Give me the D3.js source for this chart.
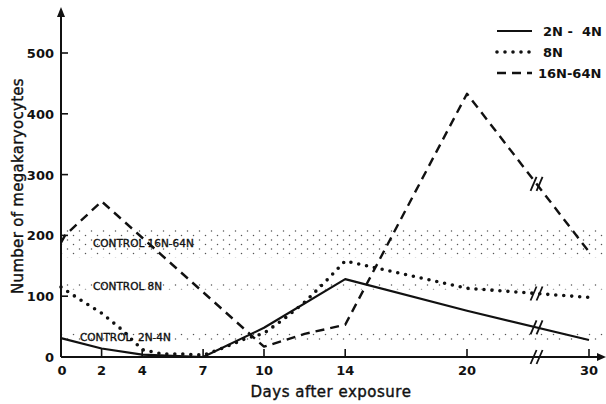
<!DOCTYPE html>
<html><head><meta charset="utf-8">
<script src="https://cdn.jsdelivr.net/npm/d3@7"></script>
<style>
body{margin:0;background:#fff;}
svg{display:block;font-family:"DejaVu Sans",sans-serif;}
</style></head>
<body><svg id="c" width="606" height="404"></svg>
<script>
// ---- data ----
const xTicks = [0, 2, 4, 7, 10, 14, 20, 30];
const yTicks = [0, 100, 200, 300, 400, 500];
const breakDay = 25.7;

const days2N4N = [0, 2, 4, 7, 10, 14, 20, 30];
const vals2N4N = [31, 14, 4, 0, 48, 128, 76, 28];

const days8N = [0, 1, 2, 3, 4, 5, 6, 7, 8, 9, 10, 11, 12, 13, 14, 20, 30];
const vals8N = [115, 93, 72, 45, 12, 5, 5, 3, 15, 29, 39, 63, 90, 123, 158, 113, 98];

const days16N64N = [0, 0.2, 2, 10, 12, 14, 20, 30];
const vals16N64N = [188, 200, 256, 17, 38, 53, 433, 173];

const controlNames = ["CONTROL 16N-64N", "CONTROL 8N", "CONTROL  2N-4N"];
const controlLow = [164, 111, 28];
const controlHigh = [210, 122, 39];

const legendNames = ["2N -  4N", "8N", "16N-64N"];

// ---- setup ----
const svg = d3.select("#c");
const x = d3.scaleLinear().domain([0, 20, 30]).range([61, 467, 589]);
const y = d3.scaleLinear().domain([0, 500]).range([357, 53]);
const ink = "#111";

// stipple pattern
const defs = svg.append("defs");
const pat = defs.append("pattern").attr("id", "stip").attr("patternUnits", "userSpaceOnUse")
  .attr("width", 12).attr("height", 9);
pat.append("circle").attr("cx", 1.5).attr("cy", 1.5).attr("r", 0.75).attr("fill", "#555");
pat.append("circle").attr("cx", 7.5).attr("cy", 6).attr("r", 0.75).attr("fill", "#555");

// control bands
controlNames.forEach((n, i) => {
  svg.append("rect").attr("x", x(0)).attr("width", 606 - x(0))
    .attr("y", y(controlHigh[i])).attr("height", y(controlLow[i]) - y(controlHigh[i]))
    .attr("fill", "url(#stip)");
});
const labelX = [93, 93, 80];
controlNames.forEach((n, i) => {
  const yc = (y(controlHigh[i]) + y(controlLow[i])) / 2;
  svg.append("text").attr("x", labelX[i]).attr("y", yc + 4)
    .attr("font-size", 10.5).attr("fill", ink).attr("stroke", ink).attr("stroke-width", 0.35)
    .style("white-space", "pre").text(n);
});

// axes
const axisG = svg.append("g");
axisG.append("line").attr("x1", x(0)).attr("x2", x(0)).attr("y1", y(0)).attr("y2", 14)
  .attr("stroke", ink).attr("stroke-width", 2);
axisG.append("path").attr("d", `M${x(0)},7 L${x(0)-4},17 L${x(0)+4},17 Z`).attr("fill", ink);
axisG.append("line").attr("x1", x(0)).attr("x2", 600).attr("y1", y(0)).attr("y2", y(0))
  .attr("stroke", ink).attr("stroke-width", 2);
axisG.append("path").attr("d", `M606,${y(0)} L597,${y(0)-4} L597,${y(0)+4} Z`).attr("fill", ink);

// y ticks (inward)
yTicks.forEach(v => {
  if (v > 0) axisG.append("line").attr("x1", x(0)).attr("x2", x(0) + 7).attr("y1", y(v)).attr("y2", y(v))
    .attr("stroke", ink).attr("stroke-width", 1.6);
  axisG.append("text").attr("x", x(0) - 7).attr("y", y(v) + 5).attr("text-anchor", "end")
    .attr("font-size", 13).attr("font-weight", "bold").attr("fill", ink).text(v);
});
// x ticks (inward)
xTicks.forEach(v => {
  if (v > 0) axisG.append("line").attr("x1", x(v)).attr("x2", x(v)).attr("y1", y(0)).attr("y2", y(0) - 8)
    .attr("stroke", ink).attr("stroke-width", 1.6);
  axisG.append("text").attr("x", x(v) + (v === 0 ? 1 : 0)).attr("y", y(0) + 18).attr("text-anchor", "middle")
    .attr("font-size", 13).attr("font-weight", "bold").attr("fill", ink).text(v);
});

// axis titles
svg.append("text").attr("x", 331).attr("y", 397).attr("text-anchor", "middle")
  .attr("font-size", 15).attr("fill", ink).attr("stroke", ink).attr("stroke-width", 0.4)
  .style("letter-spacing", "0.5px").text("Days after exposure");
svg.append("text").attr("transform", "translate(23,186) rotate(-90)").attr("text-anchor", "middle")
  .attr("font-size", 15).attr("fill", ink).attr("stroke", ink).attr("stroke-width", 0.4)
  .style("letter-spacing", "0.3px").text("Number of megakaryocytes");

// break marks helper
function breakMark(cx, cy) {
  [-3, 3].forEach(d => {
    svg.append("line").attr("x1", cx + d - 3).attr("y1", cy + 7).attr("x2", cx + d + 3).attr("y2", cy - 7)
      .attr("stroke", ink).attr("stroke-width", 1.8);
  });
}
breakMark(x(breakDay), y(0));

// series
const line = d3.line().x(d => x(d[0])).y(d => y(d[1]));
const series = [
  {d: days2N4N, v: vals2N4N, dash: null, w: 2.2, cap: "butt"},
  {d: days8N, v: vals8N, dash: "0 8", w: 3.6, cap: "round"},
  {d: days16N64N, v: vals16N64N, dash: "9 6", w: 2.4, cap: "butt"}
];
series.forEach(s => {
  const pts = s.d.map((d, i) => [d, s.v[i]]);
  svg.append("path").attr("d", line(pts)).attr("fill", "none").attr("stroke", ink)
    .attr("stroke-width", s.w).attr("stroke-dasharray", s.dash).attr("stroke-linecap", s.cap)
    .attr("stroke-linejoin", "round");
  const interp = d3.scaleLinear().domain(s.d).range(s.v);
  breakMark(x(breakDay), y(interp(breakDay)));
});

// legend
const lg = svg.append("g");
series.forEach((s, i) => {
  const ly = 31 + i * 21;
  lg.append("line").attr("x1", 497).attr("x2", 532).attr("y1", ly).attr("y2", ly)
    .attr("stroke", ink).attr("stroke-width", s.w).attr("stroke-dasharray", s.dash)
    .attr("stroke-linecap", s.cap);
  lg.append("text").attr("x", i === 2 ? 538 : 543).attr("y", ly + 5).attr("font-size", 13)
    .attr("font-weight", "bold").attr("fill", ink).style("white-space", "pre").text(legendNames[i]);
});
</script></body></html>
